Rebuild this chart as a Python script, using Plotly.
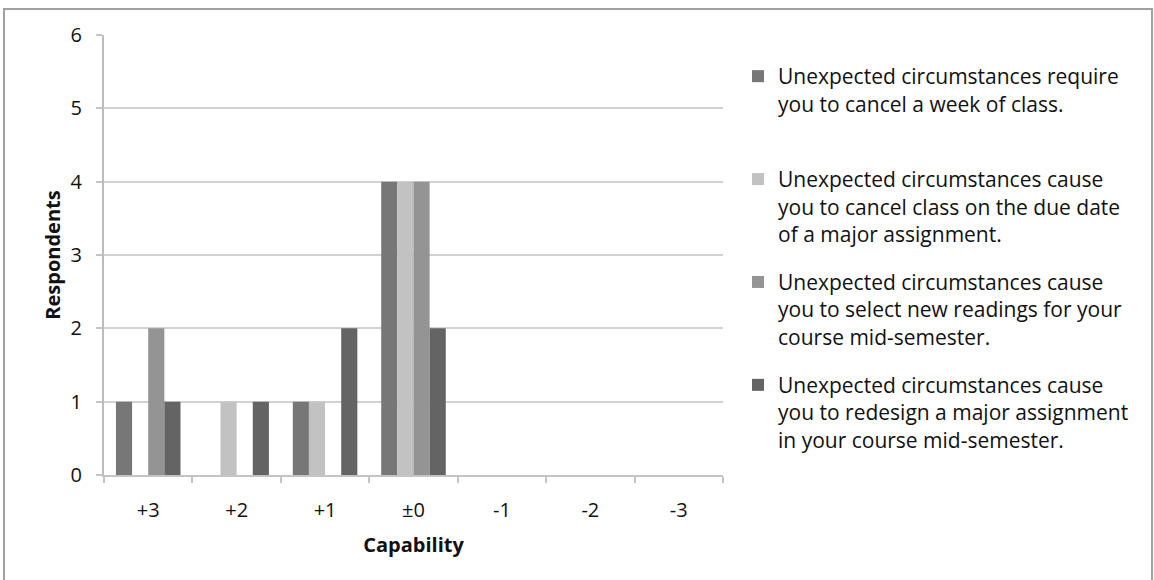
import plotly.graph_objects as go

categories = ["+3", "+2", "+1", "±0", "-1", "-2", "-3"]
series_names = [
    "Unexpected circumstances require<br>you to cancel a week of class.<br>&nbsp;",
    "Unexpected circumstances cause<br>you to cancel class on the due date<br>of a major assignment.",
    "Unexpected circumstances cause<br>you to select new readings for your<br>course mid-semester.",
    "Unexpected circumstances cause<br>you to redesign a major assignment<br>in your course mid-semester.",
]
cancel_week = [1, 0, 1, 4, 0, 0, 0]
cancel_due_date = [0, 1, 1, 4, 0, 0, 0]
new_readings = [2, 0, 0, 4, 0, 0, 0]
redesign_assignment = [1, 1, 2, 2, 0, 0, 0]
y_ticks = [0, 1, 2, 3, 4, 5, 6]

series_values = [cancel_week, cancel_due_date, new_readings, redesign_assignment]
colors = ["#777777", "#c2c2c2", "#949494", "#646464"]

FONT = "Open Sans"
W, H = 1154, 580
L, R, T, B = 104, 431, 35, 105

fig = go.Figure()
for i, (name, vals, col) in enumerate(zip(series_names, series_values, colors)):
    fig.add_trace(go.Bar(
        x=categories, y=vals, name=name, legendgroup=f"g{i}",
        marker=dict(color=col, line=dict(width=0)),
    ))

pw = W - L - R
ph = H - T - B
def px_x(p):
    return (p - L) / pw
def px_y(p):
    return (H - B - p) / ph

fig.update_layout(
    width=W, height=H,
    margin=dict(l=L, r=R, t=T, b=B, autoexpand=False),
    paper_bgcolor="white", plot_bgcolor="white",
    barmode="group", bargap=0.27, bargroupgap=0,
    font=dict(family=FONT, size=20, color="#111111"),
    showlegend=True,
    legend=dict(
        x=px_x(738), y=px_y(56), xanchor="left", yanchor="top",
        font=dict(family=FONT, size=21, color="#111111"),
        valign="top", tracegroupgap=18, itemwidth=30,
        bgcolor="rgba(0,0,0,0)",
    ),
    xaxis=dict(
        type="category", categoryorder="array", categoryarray=categories,
        showline=True, linecolor="#c4c4c4", linewidth=2,
        ticks="outside", tickson="boundaries", ticklen=6, tickwidth=2, tickcolor="#c4c4c4",
        tickfont=dict(family=FONT, size=20, color="#111111"),
        ticklabelstandoff=16,
        title=dict(text="<b>Capability</b>", font=dict(family=FONT, size=20, color="#111111"), standoff=16),
        showgrid=False, zeroline=False,
    ),
    yaxis=dict(
        range=[0, 6], tickvals=y_ticks,
        showline=True, linecolor="#bcbcbc", linewidth=2,
        ticks="outside", ticklen=6, tickwidth=2, tickcolor="#c4c4c4",
        tickfont=dict(family=FONT, size=20, color="#111111"),
        ticklabelstandoff=10,
        showgrid=True, gridcolor="#d2d2d2", gridwidth=2,
        zeroline=False,
        title=dict(text="<b>Respondents</b>", font=dict(family=FONT, size=20, color="#111111"), standoff=5),
    ),
    shapes=[dict(
        type="rect", xref="paper", yref="paper",
        x0=px_x(4), x1=px_x(1152), y0=px_y(9), y1=px_y(590),
        line=dict(color="#a0a0a0", width=2), fillcolor="rgba(0,0,0,0)", layer="below",
    )],
)

fig.write_html("out.html", config={"displayModeBar": False},
               post_script="document.body.style.margin='0px';")
